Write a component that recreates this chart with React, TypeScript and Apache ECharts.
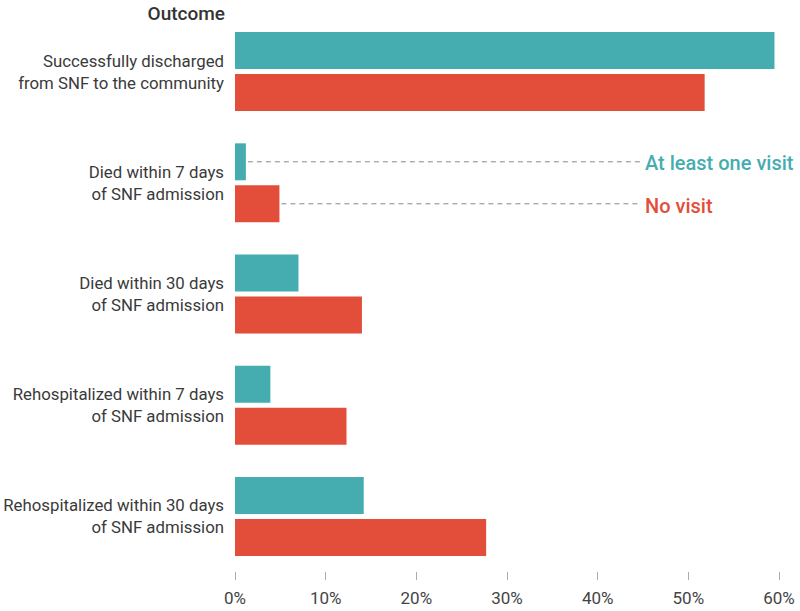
import React, { useEffect, useRef } from "react";
import * as echarts from "echarts";

const categories = [
  "Successfully discharged\nfrom SNF to the community",
  "Died within 7 days\nof SNF admission",
  "Died within 30 days\nof SNF admission",
  "Rehospitalized within 7 days\nof SNF admission",
  "Rehospitalized within 30 days\nof SNF admission",
];
const atLeastOneVisit = [59.5, 1.2, 7.0, 3.9, 14.2];
const noVisit = [51.8, 4.9, 14.0, 12.3, 27.7];
const xTicks = [0, 10, 20, 30, 40, 50, 60];

const TEAL = "#45adb0";
const RED = "#e34e3a";
const FONT = "Roboto, 'Noto Sans', sans-serif";
const CAT_GAP = 0.29;
const BAR_GAP = 0.135;

export default function App() {
  const ref = useRef<HTMLDivElement>(null);
  useEffect(() => {
    if (!ref.current) return;
    const chart = echarts.init(ref.current, undefined, { renderer: "svg" });
    chart.setOption({
      animation: false,
      textStyle: { fontFamily: FONT },
      title: {
        text: "Outcome",
        right: 800 - 225,
        top: 4,
        padding: 0,
        textStyle: { fontFamily: FONT, fontSize: 19, fontWeight: 500, color: "#333" },
      },
      grid: { left: 235, right: 21, top: 16, bottom: 39, containLabel: false },
      xAxis: {
        type: "value",
        min: xTicks[0],
        max: xTicks[xTicks.length - 1],
        interval: 10,
        axisLine: { show: false },
        splitLine: { show: false },
        axisTick: { show: true, length: 8, lineStyle: { color: "#aaa" } },
        axisLabel: { formatter: "{value}%", fontSize: 17, color: "#444", margin: 17, fontFamily: FONT },
      },
      yAxis: {
        type: "category",
        inverse: true,
        data: categories,
        axisLine: { show: false },
        axisTick: { show: false },
        axisLabel: { fontSize: 16.8, color: "#3a3a3a", lineHeight: 22, margin: 11, fontFamily: FONT },
      },
      series: [
        {
          name: "At least one visit",
          type: "bar",
          data: atLeastOneVisit,
          itemStyle: { color: TEAL },
          barGap: BAR_GAP * 100 + "%",
          barCategoryGap: CAT_GAP * 100 + "%",
        },
        {
          name: "No visit",
          type: "bar",
          data: noVisit,
          itemStyle: { color: RED },
        },
      ],
    });

    // annotations for the legend, anchored to category index 1 bars
    const idx = 1;
    const center = chart.convertToPixel({ yAxisIndex: 0 }, idx) as number;
    const top = chart.convertToPixel({ yAxisIndex: 0 }, 0) as number;
    const next = chart.convertToPixel({ yAxisIndex: 0 }, 1) as number;
    const band = Math.abs(next - top);
    const barW = (band * (1 - CAT_GAP)) / (2 + BAR_GAP);
    const off = (barW + barW * BAR_GAP) / 2;
    const tealEnd = chart.convertToPixel({ xAxisIndex: 0 }, atLeastOneVisit[idx]) as number;
    const redEnd = chart.convertToPixel({ xAxisIndex: 0 }, noVisit[idx]) as number;
    const textX = 645;
    const yT = center - off;
    const yR = center + off;
    chart.setOption({
      graphic: [
        {
          type: "line",
          shape: { x1: tealEnd + 2, y1: yT, x2: textX - 3, y2: yT },
          style: { stroke: "#888", lineWidth: 1, lineDash: [5, 4] },
        },
        {
          type: "line",
          shape: { x1: redEnd + 2, y1: yR, x2: textX - 5, y2: yR },
          style: { stroke: "#888", lineWidth: 1, lineDash: [5, 4] },
        },
        {
          type: "text",
          x: textX,
          y: yT + 1,
          style: {
            text: "At least one visit",
            fill: TEAL,
            font: `500 20px ${FONT}`,
            textVerticalAlign: "middle",
            verticalAlign: "middle",
          },
        },
        {
          type: "text",
          x: textX,
          y: yR + 2,
          style: {
            text: "No visit",
            fill: RED,
            font: `500 20px ${FONT}`,
            textVerticalAlign: "middle",
            verticalAlign: "middle",
          },
        },
      ],
    });
    return () => chart.dispose();
  }, []);
  return (
    <div
      ref={ref}
      style={{ position: "absolute", left: 0, top: 0, width: 800, height: 611, background: "#fff" }}
    />
  );
}
